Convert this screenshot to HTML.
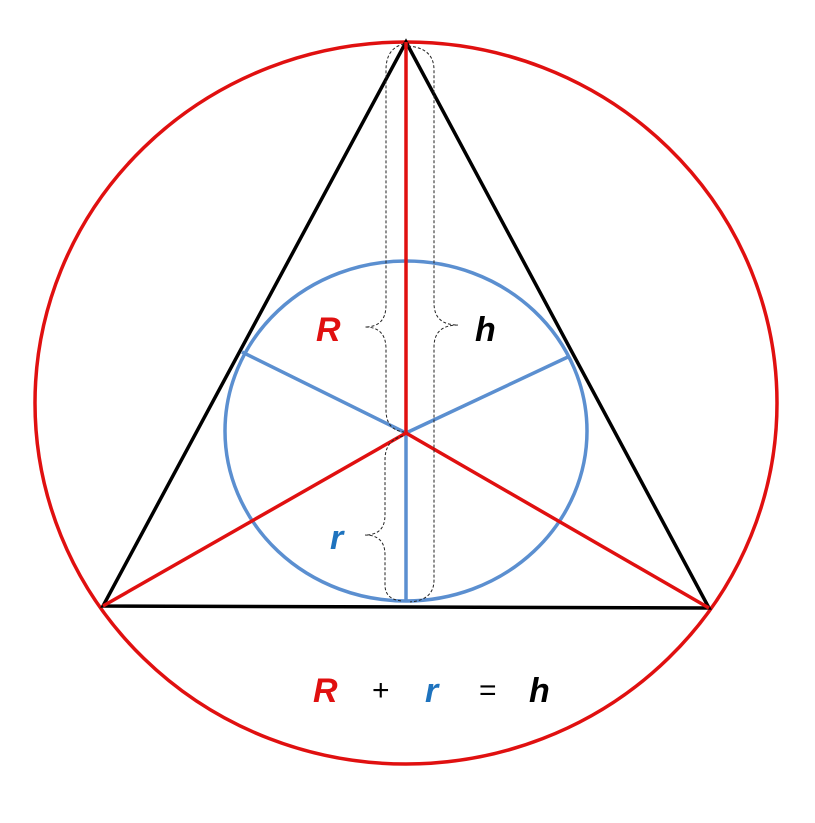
<!DOCTYPE html>
<html><head><style>body{margin:0;background:#fff}</style></head><body>
<svg width="815" height="818" xmlns="http://www.w3.org/2000/svg">
<rect width="815" height="818" fill="#fff"/>
<ellipse cx="406" cy="403" rx="371" ry="361" fill="none" stroke="#e01010" stroke-width="3.5"/>
<ellipse cx="406" cy="431" rx="181" ry="170" fill="none" stroke="#5b8fd0" stroke-width="3.5"/>
<polygon points="406,42 103,606 709,608" fill="none" stroke="#000" stroke-width="3.5" stroke-linejoin="miter"/>
<line x1="406" y1="433" x2="242" y2="352" stroke="#5b8fd0" stroke-width="3.5"/>
<line x1="406" y1="433" x2="570" y2="356" stroke="#5b8fd0" stroke-width="3.5"/>
<line x1="406" y1="433" x2="406" y2="602" stroke="#5b8fd0" stroke-width="3.5"/>
<line x1="406" y1="433" x2="406" y2="42" stroke="#e01010" stroke-width="3.5"/>
<line x1="406" y1="433" x2="103" y2="606" stroke="#e01010" stroke-width="3.5"/>
<line x1="406" y1="433" x2="709" y2="608" stroke="#e01010" stroke-width="3.5"/>
<g fill="none" stroke="#222" stroke-width="1" stroke-dasharray="3,2">
<path d="M404,44 Q386,48 386,70 L386,305 Q386,327 365,327 Q386,327 386,349 L386,410 Q386,430 404,432"/>
<path d="M408,46 Q434,48 434,70 L434,303 Q434,325 458,325 Q434,325 434,347 L434,580 Q434,600 410,602"/>
<path d="M403,436 Q385,440 385,460 L385,515 Q385,535 365,535 Q385,535 385,555 L385,585 Q385,600 403,601"/>
</g>
<g font-family="Liberation Sans, sans-serif" font-weight="bold" font-style="italic" font-size="34">
<text x="316" y="341" fill="#e01010">R</text>
<text x="475" y="341" fill="#000">h</text>
<text x="330" y="549" fill="#1e73be">r</text>
<text x="313" y="702" fill="#e01010">R</text>
<text x="425" y="702" fill="#1e73be">r</text>
<text x="529" y="702" fill="#000">h</text>
</g>
<g font-family="Liberation Sans, sans-serif" font-size="30" fill="#000">
<text x="372" y="700">+</text>
<text x="479" y="700">=</text>
</g>
</svg>
</body></html>
